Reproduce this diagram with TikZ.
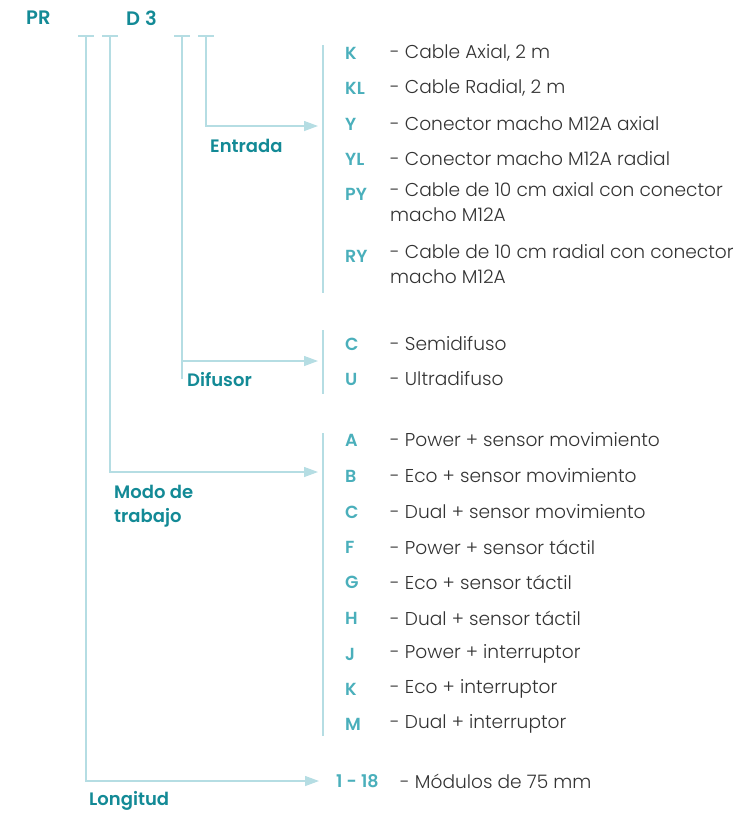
\documentclass[tikz,border=0pt]{standalone}
\usepackage{fontspec}
\setmainfont{Poppins}
\newfontfamily\desc{Poppins Light}
\newfontfamily\med{Poppins SemiBold}
\usetikzlibrary{arrows.meta}
\definecolor{titc}{HTML}{138A96}
\definecolor{codec}{HTML}{4AAFBB}
\definecolor{linec}{HTML}{B5DDE3}
\definecolor{txtc}{HTML}{333333}
\tikzset{
  lin/.style={draw=linec, line width=1.3pt},
  arr/.style={lin, -{Triangle[length=14pt,width=10pt]}},
  titlab/.style={anchor=west, inner sep=0pt, text=titc, font=\med\fontsize{18}{24}\selectfont},
  headlab/.style={titlab, font=\med\fontsize{19.5}{24}\selectfont},
  codelab/.style={anchor=west, inner sep=0pt, text=codec, font=\med\fontsize{17.5}{21}\selectfont},
  desclab/.style={anchor=west, inner sep=0pt, text=txtc, font=\desc\fontsize{18.6}{25}\selectfont, align=left},
}
\begin{document}
\begin{tikzpicture}[x=1pt,y=-1pt]
\useasboundingbox (0,0) rectangle (756,815);
% header
\node[headlab] (pr) at (26,18) {PR};
\node[headlab] (d3) at (126,18) {D\hspace{5pt}3};
% ticks
\foreach \x/\n in {86/t1,110/t2,182/t3,206/t4}{
  \draw[lin] (\x-8,36) -- (\x+8,36);
  \coordinate (\n) at (\x,36);
}
% arrow ends
\coordinate (e1) at (206,126);
\coordinate (e2) at (182,361);
\coordinate (e3) at (110,472);
\coordinate (e4) at (86,781);
\coordinate (a1) at (318,126);
\coordinate (a2) at (318,361);
\coordinate (a3) at (318,472);
\coordinate (a4) at (319,781);
\draw[arr] (t4) -- (e1) -- (a1);
\draw[lin] (t3) -- (182,379);
\draw[arr] (e2) -- (a2);
\draw[arr] (t2) -- (e3) -- (a3);
\draw[arr] (t1) -- (e4) -- (a4);
% brackets
\draw[lin] (323,45) -- (323,293);
\draw[lin] (323,330) -- (323,394);
\draw[lin] (323,433) -- (323,736);
% group titles
\node[titlab] (entrada) at (210,146) {Entrada};
\node[titlab] (difusor) at (187,380) {Difusor};
\node[titlab, align=left] (modo) at (114,506) {Modo de\\trabajo};
\node[titlab] (longitud) at (89,801) {Longitud};
% entries
\foreach \y/\c/\d [count=\i] in {
  53/K/Cable Axial{,} 2 m,
  88/KL/Cable Radial{,} 2 m,
  124/Y/Conector macho M12A axial,
  159/YL/Conector macho M12A radial,
  344/C/Semidifuso,
  379/U/Ultradifuso,
  440/A/Power + sensor movimiento,
  476/B/Eco + sensor movimiento,
  512/C/Dual + sensor movimiento,
  547/F/Power + sensor táctil,
  582/G/Eco + sensor táctil,
  618/H/Dual + sensor táctil,
  654/J/Power + interruptor,
  689/K/Eco + interruptor,
  724/M/Dual + interruptor}{
  \node[codelab] (c\i) at (345,\y) {\c};
  \node[desclab] (d\i) at (390,\y) {- \d};
}
\node[codelab] (cpy) at (345,194) {PY};
\node[desclab, anchor=north west] (dpy) at (390,182.5) {- Cable de 10 cm axial con conector\\macho M12A};
\node[codelab] (cry) at (345,256) {RY};
\node[desclab, anchor=north west] (dry) at (390,244.5) {- Cable de 10 cm radial con conector\\macho M12A};
\node[codelab] (clen) at (336,781) {1 - 18};
\node[desclab] (dlen) at (400,781) {- Módulos de 75 mm};
\end{tikzpicture}
\end{document}
